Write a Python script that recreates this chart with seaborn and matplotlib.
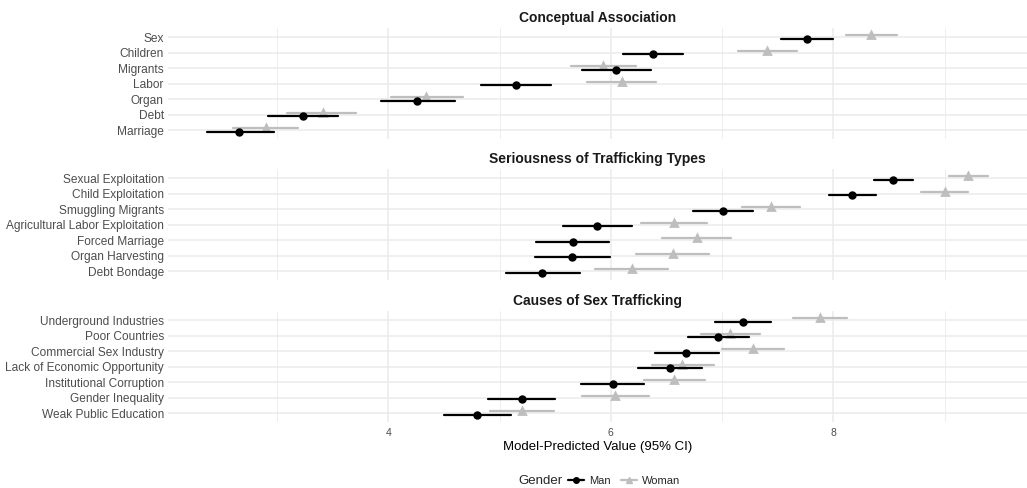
import numpy as np
import pandas as pd
import matplotlib
matplotlib.use("Agg")
import matplotlib.pyplot as plt
from matplotlib.lines import Line2D
from matplotlib.ticker import MultipleLocator
import seaborn as sns

# Conceptual Association
concept_items = ["Sex", "Children", "Migrants", "Labor", "Organ", "Debt", "Marriage"]
concept_man = [7.76, 6.38, 6.05, 5.15, 4.26, 3.23, 2.66]
concept_man_lo = [7.53, 6.11, 5.74, 4.83, 3.93, 2.92, 2.37]
concept_man_hi = [8.00, 6.65, 6.36, 5.46, 4.60, 3.55, 2.97]
concept_woman = [8.34, 7.40, 5.93, 6.10, 4.34, 3.41, 2.90]
concept_woman_lo = [8.11, 7.14, 5.64, 5.79, 4.02, 3.09, 2.60]
concept_woman_hi = [8.57, 7.67, 6.23, 6.41, 4.67, 3.71, 3.19]

# Seriousness of Trafficking Types
serious_items = ["Sexual Exploitation", "Child Exploitation", "Smuggling Migrants",
                 "Agricultural Labor Exploitation", "Forced Marriage",
                 "Organ Harvesting", "Debt Bondage"]
serious_man = [8.54, 8.17, 7.01, 5.88, 5.66, 5.65, 5.38]
serious_man_lo = [8.37, 7.96, 6.74, 5.57, 5.33, 5.32, 5.06]
serious_man_hi = [8.72, 8.38, 7.28, 6.19, 5.98, 5.99, 5.72]
serious_woman = [9.21, 9.00, 7.44, 6.57, 6.77, 6.56, 6.19]
serious_woman_lo = [9.04, 8.79, 7.18, 6.27, 6.46, 6.23, 5.86]
serious_woman_hi = [9.39, 9.21, 7.70, 6.86, 7.08, 6.88, 6.51]

# Causes of Sex Trafficking
causes_items = ["Underground Industries", "Poor Countries", "Commercial Sex Industry",
                "Lack of Economic Opportunity", "Institutional Corruption",
                "Gender Inequality", "Weak Public Education"]
causes_man = [7.19, 6.96, 6.68, 6.53, 6.02, 5.20, 4.80]
causes_man_lo = [6.94, 6.69, 6.40, 6.24, 5.73, 4.90, 4.50]
causes_man_hi = [7.44, 7.24, 6.97, 6.82, 6.30, 5.50, 5.10]
causes_woman = [7.88, 7.07, 7.28, 6.64, 6.57, 6.04, 5.20]
causes_woman_lo = [7.64, 6.81, 7.00, 6.37, 6.30, 5.74, 4.91]
causes_woman_hi = [8.12, 7.34, 7.56, 6.93, 6.85, 6.34, 5.49]

panels = [
    ("Conceptual Association", concept_items,
     (concept_man, concept_man_lo, concept_man_hi),
     (concept_woman, concept_woman_lo, concept_woman_hi)),
    ("Seriousness of Trafficking Types", serious_items,
     (serious_man, serious_man_lo, serious_man_hi),
     (serious_woman, serious_woman_lo, serious_woman_hi)),
    ("Causes of Sex Trafficking", causes_items,
     (causes_man, causes_man_lo, causes_man_hi),
     (causes_woman, causes_woman_lo, causes_woman_hi)),
]


def long_frame(items, man, woman):
    # estimate + both CI ends per row; median gives the estimate, min/max the CI
    rows = []
    for gender, vals in (("Man", man), ("Woman", woman)):
        for i, item in enumerate(items):
            for v in (vals[0][i], vals[1][i], vals[2][i]):
                rows.append({"item": item, "Gender": gender, "value": v})
    return pd.DataFrame(rows)


sns.set_theme(style="white")
plt.rcParams["font.family"] = ["Liberation Sans", "DejaVu Sans"]

grey_txt = "#4D4D4D"
grid_col = "#EBEBEB"
woman_col = "#BEBEBE"

all_vals = np.concatenate([np.r_[m[1], m[2], w[1], w[2]] for _, _, m, w in panels])
span = all_vals.max() - all_vals.min()
xlim = (all_vals.min() - 0.05 * span, all_vals.max() + 0.05 * span)

fig = plt.figure(figsize=(10.27, 4.88), dpi=100)
left = 168 / 1027
bottoms = [0.7145, 0.4256, 0.1346]
height = 0.2287

for k, (title, items, man, woman) in enumerate(panels):
    ax = fig.add_axes([left, bottoms[k], 1 - left, height])
    df = long_frame(items, man, woman)
    sns.pointplot(
        data=df, x="value", y="item", hue="Gender", order=items,
        hue_order=["Woman", "Man"], palette=[woman_col, "black"],
        markers=["^", "o"], linestyle="none", dodge=0.22,
        estimator="median", errorbar=lambda v: (v.min(), v.max()),
        markersize=4, err_kws={"linewidth": 1.6}, ax=ax, legend=False,
    )
    ax.set_xlim(*xlim)
    ax.set_ylim(len(items) - 0.4, -0.6)
    ax.xaxis.set_major_locator(MultipleLocator(2))
    ax.xaxis.set_minor_locator(MultipleLocator(1))
    ax.grid(True, which="major", color=grid_col, linewidth=1.1)
    ax.grid(True, which="minor", axis="x", color=grid_col, linewidth=0.6)
    ax.set_axisbelow(True)
    for s in ax.spines.values():
        s.set_visible(False)
    ax.tick_params(axis="both", which="both", length=0, colors=grey_txt, labelsize=8)
    ax.tick_params(axis="y", pad=3, labelsize=8.6)
    ax.set_ylabel("")
    ax.set_title(title, fontsize=10, fontweight="bold", color="#1A1A1A", pad=4)
    if k < 2:
        ax.set_xlabel("")
        ax.set_xticklabels([])
    else:
        ax.tick_params(axis="x", pad=4, labelsize=7.5)
        ax.set_xlabel("Model-Predicted Value (95% CI)", fontsize=9.5, color="black", labelpad=2)

handles = [
    Line2D([], [], color="black", marker="o", markersize=4, linewidth=1.6),
    Line2D([], [], color=woman_col, marker="^", markersize=4, linewidth=1.6),
]
fig.text(0.5045, 0.014, "Gender", fontsize=9.5, ha="left", va="center")
fig.legend(handles, ["Man", "Woman"], loc="center left", bbox_to_anchor=(0.5535, 0.015),
           ncol=2, frameon=False, fontsize=8, handlelength=1.4, handletextpad=0.5,
           columnspacing=0.9, borderaxespad=0, borderpad=0)

fig.savefig("out.png", dpi=100)
plt.close(fig)
